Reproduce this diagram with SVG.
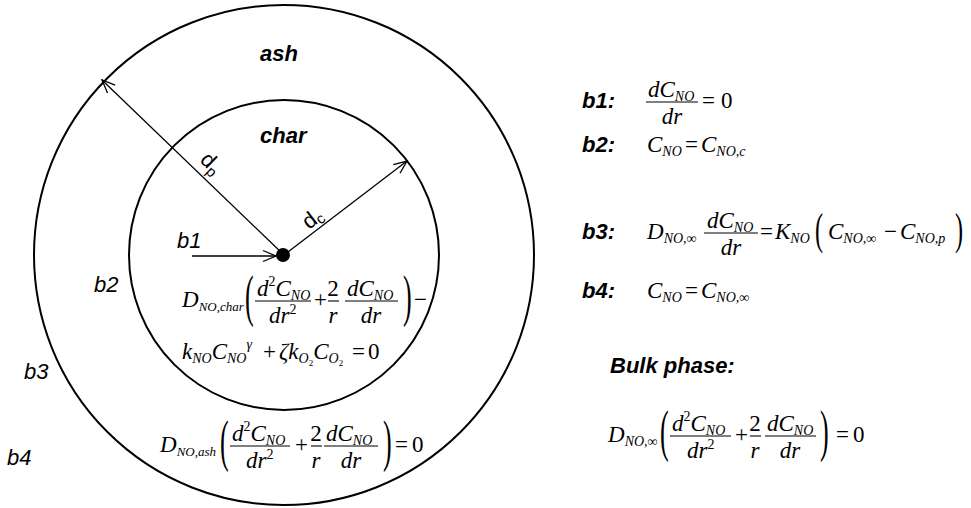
<svg xmlns="http://www.w3.org/2000/svg" width="971" height="508" viewBox="0 0 971 508">
<defs>
<style>
.c{fill:none;stroke:#000;stroke-width:2}
.ln{fill:none;stroke:#000;stroke-width:1.3}
.bar{stroke:#000;stroke-width:1.1}
.lab{font-family:"Liberation Sans",Arial,sans-serif;font-style:italic;font-size:22px;fill:#000}
.b{font-weight:bold}
.dl{font-family:"Liberation Sans",Arial,sans-serif;font-size:22px;fill:#000}
.m{font-family:"Liberation Serif","Times New Roman",serif;font-style:italic;font-size:23px;fill:#000}
.u{font-style:normal}
.s{font-size:14px}
.s13{font-size:13px}
.ss{font-size:9px}
.p58{font-size:58px}
.p44{font-size:44px}
</style>
<marker id="ah" markerUnits="userSpaceOnUse" markerWidth="16" markerHeight="14" refX="14" refY="7" orient="auto"><path d="M1,1.5 L14,7 L1,12.5" fill="none" stroke="#000" stroke-width="1.3"/></marker>
</defs>
<rect width="971" height="508" fill="#fff"/>

<g id="particle">
<circle class="c" cx="284" cy="255" r="250"/>
<circle class="c" cx="284" cy="255" r="155"/>
<circle cx="283" cy="255" r="7" fill="#000"/>
</g>

<g id="connectors">
<line class="ln" x1="284" y1="255" x2="102" y2="80" marker-end="url(#ah)"/>
<line class="ln" x1="284" y1="255" x2="407" y2="161" marker-end="url(#ah)"/>
<line class="ln" x1="192" y1="256" x2="276" y2="256" marker-end="url(#ah)"/>
</g>

<g id="region-labels">
<text class="lab b" x="260" y="61">ash</text>
<text class="lab b" x="260" y="143">char</text>
<text class="dl" transform="translate(199,161) rotate(44)">d<tspan font-size="15" dy="4">p</tspan></text>
<text class="dl" transform="translate(309,230) rotate(-37.5)">d<tspan font-size="15" dy="3">c</tspan></text>
<text class="lab" x="177" y="248">b1</text>
<text class="lab" x="94" y="292">b2</text>
<text class="lab" x="24" y="379">b3</text>
<text class="lab" x="7" y="465">b4</text>
</g>

<g id="char-equation">
<text class="m" x="182" y="307">D<tspan class="s13" dy="4">NO,char</tspan></text>
<text class="m u p58" transform="translate(245,315) scale(0.45,1)">(</text>
<text class="m" x="257" y="296">d<tspan class="u s" dy="-10">2</tspan><tspan dy="10">C</tspan><tspan class="s" dy="4">NO</tspan></text>
<line class="bar" x1="255" y1="301" x2="311" y2="301"/>
<text class="m" x="269" y="323">dr<tspan class="u s" dy="-9">2</tspan></text>
<text class="m u" x="314" y="307">+</text>
<text class="m u" x="333" y="296" text-anchor="middle">2</text>
<line class="bar" x1="328" y1="301" x2="339" y2="301"/>
<text class="m" x="333" y="323" text-anchor="middle">r</text>
<text class="m" x="347" y="296">dC<tspan class="s" dy="4">NO</tspan></text>
<line class="bar" x1="345" y1="301" x2="398" y2="301"/>
<text class="m" x="371" y="323" text-anchor="middle">dr</text>
<text class="m u p58" transform="translate(403,315) scale(0.45,1)">)</text>
<text class="m u" x="414" y="307">−</text>
<text class="m" x="182" y="359">k<tspan class="s" dy="4">NO</tspan><tspan dy="-4">C</tspan><tspan class="s" dy="4">NO</tspan><tspan class="s" dy="-14">γ</tspan></text>
<text class="m u" x="263" y="359">+</text>
<text class="m" x="279" y="359">ζk<tspan class="s" dy="4">O</tspan><tspan class="ss u" dy="3">2</tspan><tspan dy="-7">C</tspan><tspan class="s" dy="4">O</tspan><tspan class="ss u" dy="3">2</tspan></text>
<text class="m u" x="352" y="359">=</text>
<text class="m u" x="368" y="359">0</text>
</g>

<g id="ash-equation">
<text class="m" x="160" y="452">D<tspan class="s13" dy="4">NO,ash</tspan></text>
<text class="m u p58" transform="translate(220,460) scale(0.45,1)">(</text>
<text class="m" x="232" y="441">d<tspan class="u s" dy="-10">2</tspan><tspan dy="10">C</tspan><tspan class="s" dy="4">NO</tspan></text>
<line class="bar" x1="230" y1="446" x2="290" y2="446"/>
<text class="m" x="246" y="468">dr<tspan class="u s" dy="-9">2</tspan></text>
<text class="m u" x="295" y="452">+</text>
<text class="m u" x="316" y="441" text-anchor="middle">2</text>
<line class="bar" x1="311" y1="446" x2="322" y2="446"/>
<text class="m" x="316" y="468" text-anchor="middle">r</text>
<text class="m" x="326" y="441">dC<tspan class="s" dy="4">NO</tspan></text>
<line class="bar" x1="324" y1="446" x2="378" y2="446"/>
<text class="m" x="351" y="468" text-anchor="middle">dr</text>
<text class="m u p58" transform="translate(383,460) scale(0.45,1)">)</text>
<text class="m u" x="395" y="452">=</text>
<text class="m u" x="412" y="452">0</text>
</g>

<g id="b1-condition">
<text class="lab b" x="582" y="108">b1:</text>
<text class="m" x="648" y="97">dC<tspan class="s" dy="4">NO</tspan></text>
<line class="bar" x1="646" y1="102" x2="698" y2="102"/>
<text class="m" x="672" y="124" text-anchor="middle">dr</text>
<text class="m u" x="702" y="108">=</text>
<text class="m u" x="721" y="108">0</text>
</g>

<g id="b2-condition">
<text class="lab b" x="582" y="152">b2:</text>
<text class="m" x="647" y="152">C<tspan class="s" dy="4">NO</tspan></text>
<text class="m u" x="685" y="152">=</text>
<text class="m" x="701" y="152">C<tspan class="s" dy="4">NO,c</tspan></text>
</g>

<g id="b3-condition">
<text class="lab b" x="582" y="239">b3:</text>
<text class="m" x="647" y="239">D<tspan class="s" dy="4">NO,∞</tspan></text>
<text class="m" x="707" y="228">dC<tspan class="s" dy="4">NO</tspan></text>
<line class="bar" x1="704" y1="233" x2="758" y2="233"/>
<text class="m" x="731" y="255" text-anchor="middle">dr</text>
<text class="m u" x="760" y="239">=</text>
<text class="m" x="775" y="239">K<tspan class="s" dy="4">NO</tspan></text>
<text class="m u p44" transform="translate(815,244) scale(0.55,1)">(</text>
<text class="m" x="828" y="239">C<tspan class="s" dy="4">NO,∞</tspan></text>
<text class="m u" x="884" y="239">−</text>
<text class="m" x="900" y="239">C<tspan class="s" dy="4">NO,p</tspan></text>
<text class="m u p44" transform="translate(955,244) scale(0.55,1)">)</text>
</g>

<g id="b4-condition">
<text class="lab b" x="582" y="298">b4:</text>
<text class="m" x="647" y="298">C<tspan class="s" dy="4">NO</tspan></text>
<text class="m u" x="685" y="298">=</text>
<text class="m" x="701" y="298">C<tspan class="s" dy="4">NO,∞</tspan></text>
</g>

<g id="bulk-phase">
<text class="lab b" x="610" y="373">Bulk phase:</text>
<text class="m" x="608" y="442">D<tspan class="s" dy="4">NO,∞</tspan></text>
<text class="m u p58" transform="translate(660,450) scale(0.45,1)">(</text>
<text class="m" x="672" y="431">d<tspan class="u s" dy="-10">2</tspan><tspan dy="10">C</tspan><tspan class="s" dy="4">NO</tspan></text>
<line class="bar" x1="670" y1="436" x2="731" y2="436"/>
<text class="m" x="687" y="458">dr<tspan class="u s" dy="-9">2</tspan></text>
<text class="m u" x="735" y="442">+</text>
<text class="m u" x="755" y="431" text-anchor="middle">2</text>
<line class="bar" x1="750" y1="436" x2="761" y2="436"/>
<text class="m" x="755" y="458" text-anchor="middle">r</text>
<text class="m" x="767" y="431">dC<tspan class="s" dy="4">NO</tspan></text>
<line class="bar" x1="765" y1="436" x2="816" y2="436"/>
<text class="m" x="790" y="458" text-anchor="middle">dr</text>
<text class="m u p58" transform="translate(820,450) scale(0.45,1)">)</text>
<text class="m u" x="836" y="442">=</text>
<text class="m u" x="853" y="442">0</text>
</g>
</svg>
